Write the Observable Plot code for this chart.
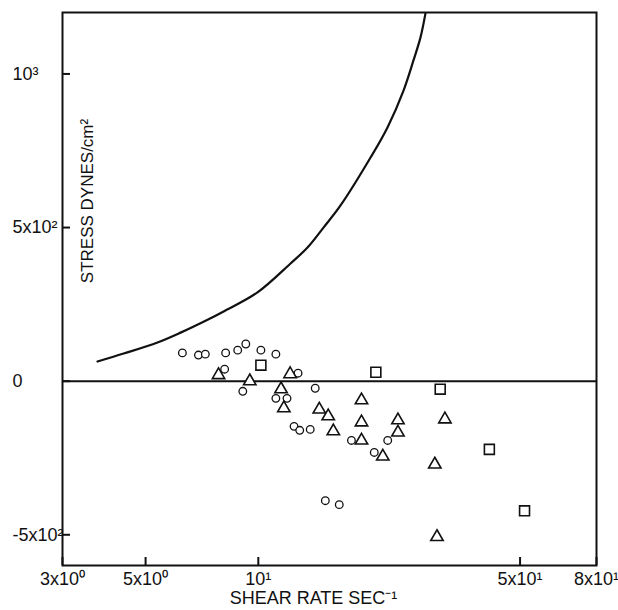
<!DOCTYPE html>
<html>
<head>
<meta charset="utf-8">
<script src="https://cdn.jsdelivr.net/npm/d3@7"></script>
<script src="https://cdn.jsdelivr.net/npm/@observablehq/plot@0.6"></script>
<style>
  html, body { margin: 0; padding: 0; background: #fff; }
  #chart { width: 618px; height: 610px; }
</style>
</head>
<body>
<div id="chart"></div>
<script>
// Theoretical curve
const curveX = [3.72, 4.37, 5.38, 6.20, 7.32, 8.08, 9.95, 12.19, 13.53, 14.93, 16.58, 19.94, 22.13, 24.42, 25.96, 27.11, 27.95];
const curveY = [64, 90, 126, 158, 200, 227, 289, 383, 435, 500, 572, 728, 826, 946, 1044, 1119, 1197];

// Circles
const circleX = [6.27, 6.92, 7.22, 8.18, 8.81, 9.26, 10.16, 11.14, 8.13, 9.09, 12.77, 11.14, 11.93, 12.46, 12.9, 14.19, 13.76, 17.73, 22.16, 20.4, 15.1, 16.45];
const circleY = [92, 85, 88, 92, 101, 121, 101, 88, 39, -33, 26, -56, -56, -147, -160, -23, -157, -193, -193, -232, -389, -402];

// Triangles
const triX = [7.83, 9.49, 12.16, 11.5, 11.7, 14.55, 15.37, 15.86, 18.86, 18.86, 18.86, 21.5, 23.6, 23.6, 31.5, 29.6, 30.0];
const triY = [20, 0, 23, -26, -88, -92, -114, -163, -62, -134, -193, -245, -127, -167, -124, -271, -507];

// Squares
const sqX = [10.16, 20.6, 30.6, 41.4, 51.4];
const sqY = [52, 29, -26, -222, -422];

// Axes
const xTicks = [3, 5, 10, 50, 80];
const xTickLabels = ["3x10⁰", "5x10⁰", "10¹", "5x10¹", "8x10¹"];
const yTicks = [-500, 0, 500, 1000];
const yTickLabels = ["-5x10²", "0", "5x10²", "10³"];
const xLabel = "SHEAR RATE SEC⁻¹";
const yLabel = "STRESS DYNES/cm²";

const curve = curveX.map((x, i) => ({x, y: curveY[i]}));
const circles = circleX.map((x, i) => ({x, y: circleY[i]}));
const tris = triX.map((x, i) => ({x, y: triY[i]}));
const squares = sqX.map((x, i) => ({x, y: sqY[i]}));
const xTickData = xTicks.map((x, i) => ({x, label: xTickLabels[i]}));

const ink = "#111";

const plot = Plot.plot({
  width: 618,
  height: 610,
  marginLeft: 62,
  marginRight: 22,
  marginTop: 12,
  marginBottom: 45,
  style: {fontFamily: "'Liberation Sans', Arial, sans-serif", fontSize: "18px", color: ink, background: "#fff"},
  x: {type: "log", domain: [3, 80]},
  y: {domain: [-600, 1200]},
  marks: [
    Plot.ruleY([0], {stroke: ink, strokeWidth: 2}),
    Plot.line(curve, {x: "x", y: "y", curve: "catmull-rom", stroke: ink, strokeWidth: 2.2, clip: true}),
    Plot.dot(circles, {x: "x", y: "y", symbol: "circle", r: 3.8, stroke: ink, fill: "white", strokeWidth: 1.3}),
    Plot.dot(tris, {x: "x", y: "y", symbol: "triangle", r: 4.6, stroke: ink, fill: "white", strokeWidth: 1.6}),
    Plot.dot(squares, {x: "x", y: "y", symbol: "square", r: 5.6, stroke: ink, fill: "white", strokeWidth: 1.6}),
    Plot.frame({stroke: ink, strokeWidth: 2}),
    Plot.axisX({
      ticks: xTicks,
      tickSize: -8,
      strokeWidth: 2,
      tickFormat: () => "",
      label: null
    }),
    Plot.text(xTickData, {
      x: "x",
      text: "label",
      frameAnchor: "bottom",
      lineAnchor: "top",
      dy: 7,
      fontSize: 18,
      fill: ink
    }),
    Plot.axisY({
      ticks: yTicks,
      tickSize: -8,
      tickPadding: 58,
      strokeWidth: 2,
      textAnchor: "start",
      tickFormat: d => yTickLabels[yTicks.indexOf(d)],
      label: null,
      fontSize: 18,
      fill: ink
    }),
    Plot.text([xLabel], {frameAnchor: "bottom", textAnchor: "middle", dy: 38, dx: -16, fontSize: 18, fill: ink}),
    Plot.text([yLabel], {frameAnchor: "left", textAnchor: "middle", dx: 25, dy: -88, rotate: -90, fontSize: 17, fill: ink})
  ]
});
document.getElementById("chart").appendChild(plot);
</script>
</body>
</html>
